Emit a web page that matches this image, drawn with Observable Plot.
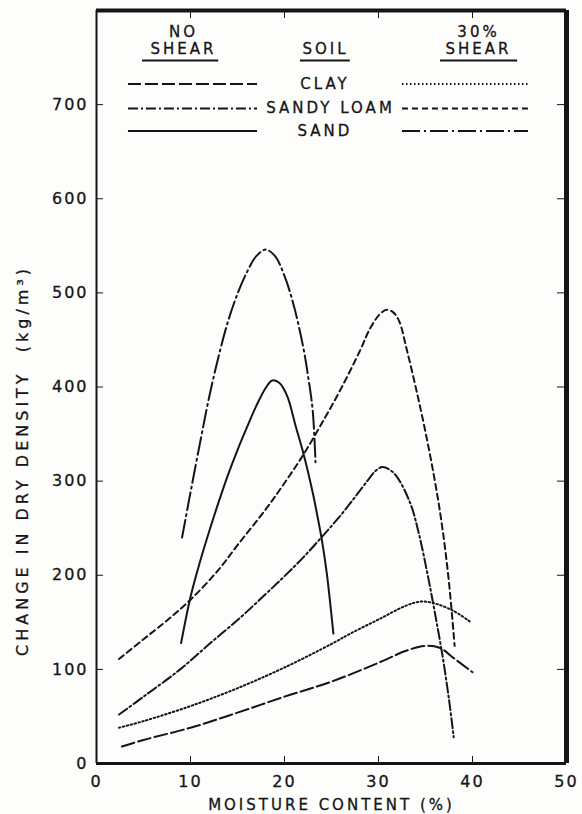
<!DOCTYPE html>
<html>
<head>
<meta charset="utf-8">
<script src="https://cdn.jsdelivr.net/npm/d3@7"></script>
<script src="https://cdn.jsdelivr.net/npm/@observablehq/plot@0.6"></script>
<style>
  html, body { margin: 0; padding: 0; background: #fdfdfc; }
  #chart svg { font-family: "DejaVu Sans", sans-serif; }
  #chart svg text { letter-spacing: 3px; stroke: #151515; stroke-width: 0.3px; }
  #chart svg g[aria-label="y-axis tick label"] text,
  #chart svg g[aria-label="x-axis tick label"] text { letter-spacing: 2px; }
</style>
</head>
<body>
<div id="chart"></div>
<script>
// ---- data (moisture %, change in dry density kg/m3) ----
const clayNoShear = [[2.7,18],[5,25],[10,38],[15,54],[20,71],[25,87],[30,107],[33,120],[35,125],[36.5,123],[38,112],[40,97]];
const clayShear = [[2.4,38],[5,45],[10,61],[15,80],[20,102],[25,127],[27,138],[30,153],[33,168],[34.5,172],[36,170],[38,162],[39.7,151]];
const loamNoShear = [[2.4,52],[5,71],[8.9,100],[12,127],[15.3,155],[18,180],[20,199],[22,219],[24,241],[26,264],[27.5,283],[28.8,300],[29.7,311],[30.4,315],[31.2,312],[32,304],[33.4,276],[34.3,244],[35.2,202],[36,160],[36.8,115],[37.5,68],[38,28]];
const loamShear = [[2.4,111],[5,132],[7.5,152],[10,174],[13,206],[15,232],[18,270],[20,298],[22,328],[24,362],[26,398],[28,438],[29.1,462],[30.2,478],[30.9,482],[31.6,479],[32.2,470],[33,440],[34,398],[35,352],[36,300],[36.8,250],[37.5,192],[38.1,125]];
const sandNoShear = [[9,128],[10,177],[11,214],[12,247],[13,278],[14,307],[15,333],[16,357],[17,380],[18,399],[18.7,407],[19.5,404],[20.3,390],[21.2,358],[22,330],[23,288],[23.5,263],[24,236],[24.5,202],[25.2,138]];
const sandShear = [[9.1,240],[10,288],[11.1,345],[12,390],[13,433],[14,470],[15,499],[16,522],[17,539],[18,546],[19,539],[20,518],[21,486],[22,442],[22.5,412],[23,375],[23.3,320]];

const xTicks = [0, 10, 20, 30, 40, 50];
const yTicks = [0, 100, 200, 300, 400, 500, 600, 700];
const soils = ["CLAY", "SANDY LOAM", "SAND"];
const noShearDash = ["13,4", "10,3,2,3", null];
const shearDash = ["1.5,2.5", "6,4", "18,4,2,4"];
const headerTop = ["NO", "", "30%"];
const headerBottom = ["SHEAR", "SOIL", "SHEAR"];

const series = [
  {data: clayNoShear, dash: noShearDash[0]},
  {data: clayShear, dash: shearDash[0]},
  {data: loamNoShear, dash: noShearDash[1]},
  {data: loamShear, dash: shearDash[1]},
  {data: sandNoShear, dash: noShearDash[2]},
  {data: sandShear, dash: shearDash[2]}
];

// legend layout (in data units of the chart's scales)
const rowY = [722, 696, 672];
const labelX = [24.3, 24.9, 24.3];
const headerX = [9.25, 24.36, 40.64];
const underline = [[4.9, 13.0], [21.7, 27.0], [36.6, 44.8]];

const ink = "#151515";
const textStyle = {fontSize: 15, fill: ink};

const marks = [];
series.forEach(s => {
  marks.push(Plot.line(s.data, {x: d => d[0], y: d => d[1], curve: "catmull-rom", stroke: ink, strokeWidth: 2, strokeDasharray: s.dash}));
});

// legend
soils.forEach((s, i) => {
  marks.push(Plot.ruleY([rowY[i]], {x1: 3.4, x2: 17.13, stroke: ink, strokeWidth: 2, strokeDasharray: noShearDash[i]}));
  marks.push(Plot.ruleY([rowY[i]], {x1: 32.55, x2: 45.96, stroke: ink, strokeWidth: 2, strokeDasharray: shearDash[i]}));
});
marks.push(Plot.text(soils, {x: (d, i) => labelX[i], y: (d, i) => rowY[i], text: d => d, ...textStyle}));
marks.push(Plot.text(headerTop, {x: (d, i) => headerX[i], y: 777, text: d => d, ...textStyle}));
marks.push(Plot.text(headerBottom, {x: (d, i) => headerX[i], y: 759, text: d => d, ...textStyle}));
underline.forEach(u => marks.push(Plot.ruleY([747], {x1: u[0], x2: u[1], stroke: ink, strokeWidth: 2})));

// frame
marks.push(Plot.ruleX([0], {stroke: ink, strokeWidth: 2}));
marks.push(Plot.ruleY([0], {stroke: ink, strokeWidth: 3}));
marks.push(Plot.ruleY([800], {stroke: ink, strokeWidth: 4}));
marks.push(Plot.ruleX([50], {stroke: ink, strokeWidth: 5}));

// axes (ticks pointing inward)
marks.push(Plot.axisX({anchor: "bottom", ticks: xTicks.slice(1, 5), tickSize: -7, tickFormat: () => "", stroke: ink}));
marks.push(Plot.axisX({anchor: "top", ticks: xTicks.slice(1, 5), tickSize: -7, tickFormat: () => "", stroke: ink}));
marks.push(Plot.axisY({anchor: "left", ticks: yTicks.slice(1), tickSize: -7, tickFormat: () => "", stroke: ink}));
marks.push(Plot.axisY({anchor: "right", ticks: yTicks.slice(1), tickSize: -8, tickFormat: () => "", stroke: ink, dx: -2}));
marks.push(Plot.axisX({anchor: "bottom", ticks: xTicks, tickSize: 0, tickPadding: 12, fontSize: 16, fill: ink,
  label: "MOISTURE CONTENT (%)", labelAnchor: "center", labelOffset: 46, labelArrow: "none"}));
marks.push(Plot.axisY({anchor: "left", ticks: yTicks, tickSize: 0, tickPadding: 8, fontSize: 16, fill: ink, label: null}));
marks.push(Plot.text(["CHANGE IN DRY DENSITY  (kg/m³)"], {frameAnchor: "left", y: 322, dx: -74, rotate: -90, textAnchor: "middle", fontSize: 16, fill: ink, text: d => d}));

const chart = Plot.plot({
  width: 582,
  height: 814,
  marginLeft: 96,
  marginRight: 16,
  marginTop: 10,
  marginBottom: 51,
  x: {domain: [0, 50]},
  y: {domain: [0, 800]},
  style: {background: "transparent", color: ink},
  marks
});
document.getElementById("chart").appendChild(chart);
chart.querySelectorAll("[aria-label='x-axis label'] text, [aria-label='x-axis label']").forEach(el => {
  el.style.fontSize = "15px";
  el.style.letterSpacing = "3px";
});
// rotated y label: slightly wider lettering
chart.querySelectorAll("g[aria-label='text'] text").forEach(el => {
  if (el.textContent.startsWith("CHANGE")) el.style.letterSpacing = "4px";
});
</script>
</body>
</html>
